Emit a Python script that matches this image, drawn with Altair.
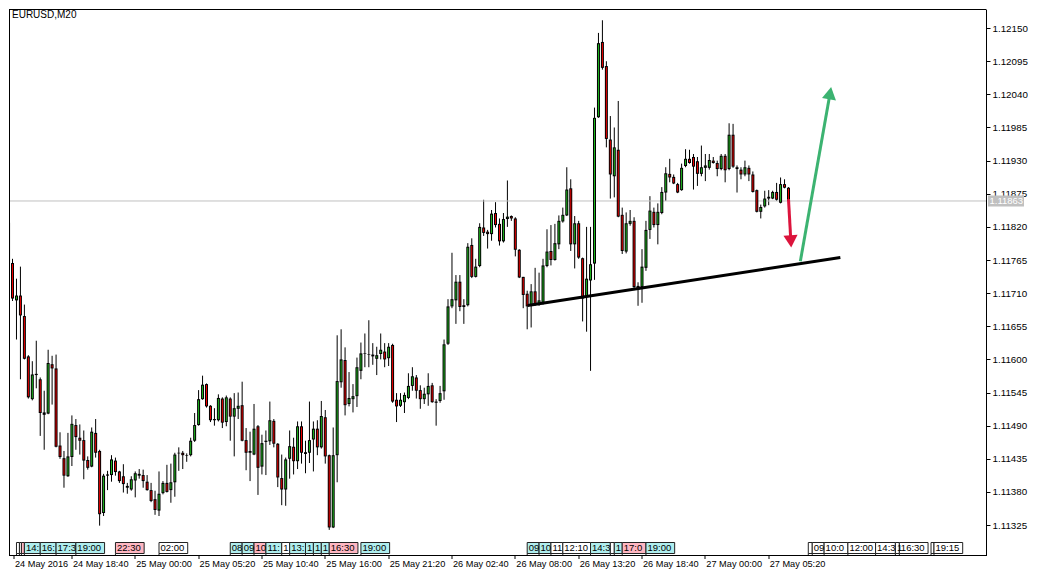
import json
import altair as alt
import pandas as pd
import numpy as np

FONT = "Liberation Sans"

# ---- candle data (EURUSD, M20), bar 0 = 24 May 2016 13:20 ----
OPEN = [1.11827,1.11760,1.11698,1.11706,1.11672,1.11605,1.11534,1.11574,1.11567,1.11512,
        1.11510,1.11592,1.11585,1.11457,1.11436,1.11406,1.11438,1.11491,1.11470,1.11466,
        1.11433,1.11422,1.11478,1.11448,1.11345,1.11407,1.11408,1.11432,1.11414,1.11406,
        1.11390,1.11384,1.11399,1.11410,1.11408,1.11397,1.11383,1.11368,1.11349,1.11378,
        1.11395,1.11383,1.11396,1.11444,1.11445,1.11441,1.11441,1.11465,1.11491,1.11534,
        1.11559,1.11523,1.11501,1.11499,1.11535,1.11496,1.11535,1.11505,1.11518,1.11524,
        1.11466,1.11448,1.11442,1.11489,1.11422,1.11463,1.11464,1.11498,1.11460,1.11403,
        1.11384,1.11435,1.11455,1.11431,1.11489,1.11446,1.11445,1.11467,1.11485,1.11454,
        1.11504,1.11441,1.11321,1.11441,1.11562,1.11599,1.11526,1.11534,1.11539,1.11581,
        1.11609,1.11608,1.11608,1.11601,1.11609,1.11613,1.11602,1.11624,1.11533,1.11523,
        1.11529,1.11536,1.11556,1.11570,1.11549,1.11534,1.11542,1.11557,1.11530,1.11531,
        1.11547,1.11626,1.11688,1.11698,1.11729,1.11690,1.11690,1.11790,1.11737,1.11755,
        1.11819,1.11812,1.11808,1.11843,1.11825,1.11796,1.11833,1.11838,1.11834,1.11782,
        1.11737,1.11709,1.11690,1.11713,1.11691,1.11694,1.11755,1.11780,1.11765,1.11791,
        1.11829,1.11839,1.11884,1.11791,1.11826,1.11768,1.11705,1.11731,1.11759,1.12002,
        1.12127,1.12087,1.11965,1.11904,1.11948,1.11840,1.11779,1.11825,1.11830,1.11722,
        1.11720,1.11752,1.11815,1.11845,1.11823,1.11843,1.11877,1.11908,1.11903,1.11891,
        1.11881,1.11921,1.11933,1.11936,1.11929,1.11908,1.11918,1.11918,1.11930,1.11926,
        1.11916,1.11938,1.11916,1.11973,1.11919,1.11915,1.11907,1.11918,1.11907,1.11881,
        1.11845,1.11854,1.11867,1.11867,1.11878,1.11860,1.11891,1.11885]
HIGH = [1.11830,1.11767,1.11734,1.11754,1.11691,1.11607,1.11597,1.11631,1.11570,1.11548,
        1.11616,1.11606,1.11608,1.11479,1.11448,1.11478,1.11507,1.11501,1.11492,1.11482,
        1.11439,1.11487,1.11501,1.11450,1.11410,1.11415,1.11441,1.11437,1.11415,1.11426,
        1.11395,1.11406,1.11414,1.11418,1.11417,1.11408,1.11395,1.11382,1.11414,1.11398,
        1.11425,1.11427,1.11445,1.11454,1.11448,1.11444,1.11470,1.11511,1.11549,1.11573,
        1.11560,1.11524,1.11519,1.11542,1.11537,1.11540,1.11537,1.11544,1.11545,1.11563,
        1.11486,1.11480,1.11526,1.11491,1.11475,1.11482,1.11530,1.11501,1.11461,1.11442,
        1.11437,1.11482,1.11470,1.11497,1.11497,1.11465,1.11530,1.11497,1.11499,1.11531,
        1.11516,1.11442,1.11487,1.11640,1.11650,1.11620,1.11579,1.11559,1.11603,1.11628,
        1.11643,1.11665,1.11627,1.11621,1.11643,1.11627,1.11627,1.11626,1.11544,1.11544,
        1.11545,1.11577,1.11587,1.11574,1.11557,1.11553,1.11577,1.11561,1.11534,1.11556,
        1.11633,1.11700,1.11777,1.11740,1.11740,1.11700,1.11793,1.11801,1.11767,1.11826,
        1.11865,1.11815,1.11848,1.11861,1.11834,1.11843,1.11897,1.11839,1.11836,1.11783,
        1.11737,1.11714,1.11725,1.11752,1.11744,1.11767,1.11816,1.11823,1.11825,1.11839,
        1.11852,1.11919,1.11899,1.11838,1.11830,1.11769,1.11820,1.11820,1.12018,1.12142,
        1.12163,1.12095,1.12004,1.11985,1.12029,1.11852,1.11844,1.11848,1.11836,1.11728,
        1.11783,1.11830,1.11871,1.11852,1.11859,1.11886,1.11919,1.11933,1.11907,1.11893,
        1.11925,1.11949,1.11948,1.11941,1.11936,1.11955,1.11941,1.11941,1.11936,1.11930,
        1.11941,1.11941,1.11992,1.11991,1.11922,1.11919,1.11930,1.11922,1.11912,1.11882,
        1.11857,1.11880,1.11881,1.11880,1.11893,1.11902,1.11899,1.11886]
LOW = [1.11758,1.11697,1.11633,1.11567,1.11600,1.11535,1.11532,1.11552,1.11473,1.11450,
       1.11509,1.11525,1.11454,1.11435,1.11387,1.11405,1.11423,1.11450,1.11442,1.11401,
       1.11417,1.11421,1.11437,1.11324,1.11340,1.11383,1.11397,1.11407,1.11395,1.11379,
       1.11377,1.11382,1.11371,1.11402,1.11387,1.11382,1.11363,1.11342,1.11340,1.11376,
       1.11379,1.11362,1.11372,1.11415,1.11418,1.11430,1.11439,1.11463,1.11490,1.11533,
       1.11520,1.11496,1.11490,1.11497,1.11486,1.11489,1.11465,1.11439,1.11501,1.11464,
       1.11416,1.11398,1.11441,1.11375,1.11409,1.11408,1.11458,1.11454,1.11388,1.11358,
       1.11357,1.11402,1.11409,1.11418,1.11427,1.11411,1.11428,1.11414,1.11441,1.11452,
       1.11427,1.11317,1.11320,1.11396,1.11553,1.11507,1.11522,1.11512,1.11521,1.11567,
       1.11587,1.11587,1.11591,1.11574,1.11600,1.11587,1.11589,1.11528,1.11496,1.11521,
       1.11511,1.11534,1.11548,1.11535,1.11518,1.11526,1.11523,1.11528,1.11490,1.11528,
       1.11533,1.11624,1.11685,1.11659,1.11680,1.11659,1.11688,1.11735,1.11736,1.11753,
       1.11805,1.11784,1.11797,1.11819,1.11789,1.11794,1.11820,1.11830,1.11771,1.11735,
       1.11685,1.11650,1.11653,1.11689,1.11689,1.11691,1.11753,1.11756,1.11764,1.11783,
       1.11827,1.11838,1.11780,1.11751,1.11767,1.11663,1.11646,1.11581,1.11732,1.12001,
       1.12081,1.11952,1.11867,1.11869,1.11836,1.11775,1.11776,1.11822,1.11715,1.11689,
       1.11694,1.11747,1.11800,1.11819,1.11791,1.11841,1.11863,1.11894,1.11891,1.11876,
       1.11880,1.11919,1.11925,1.11882,1.11888,1.11904,1.11896,1.11915,1.11925,1.11904,
       1.11914,1.11894,1.11914,1.11918,1.11877,1.11899,1.11904,1.11896,1.11877,1.11844,
       1.11834,1.11852,1.11856,1.11866,1.11863,1.11859,1.11884,1.11861]
CLOSE = [1.11760,1.11701,1.11706,1.11673,1.11601,1.11537,1.11575,1.11576,1.11511,1.11508,
         1.11594,1.11585,1.11455,1.11438,1.11407,1.11439,1.11493,1.11471,1.11465,1.11432,
         1.11420,1.11480,1.11445,1.11343,1.11407,1.11409,1.11434,1.11413,1.11398,1.11393,
         1.11387,1.11401,1.11411,1.11407,1.11398,1.11383,1.11365,1.11350,1.11377,1.11395,
         1.11380,1.11396,1.11442,1.11445,1.11441,1.11440,1.11465,1.11491,1.11534,1.11558,
         1.11522,1.11499,1.11499,1.11536,1.11495,1.11537,1.11505,1.11519,1.11523,1.11465,
         1.11445,1.11445,1.11485,1.11420,1.11461,1.11465,1.11499,1.11460,1.11404,1.11384,
         1.11434,1.11456,1.11431,1.11489,1.11445,1.11443,1.11466,1.11485,1.11454,1.11506,
         1.11439,1.11321,1.11441,1.11564,1.11600,1.11524,1.11536,1.11539,1.11587,1.11610,
         1.11610,1.11609,1.11605,1.11607,1.11616,1.11600,1.11621,1.11530,1.11522,1.11533,
         1.11541,1.11556,1.11572,1.11548,1.11534,1.11543,1.11556,1.11529,1.11528,1.11544,
         1.11625,1.11688,1.11700,1.11729,1.11687,1.11687,1.11787,1.11737,1.11754,1.11820,
         1.11810,1.11808,1.11842,1.11823,1.11796,1.11833,1.11837,1.11834,1.11782,1.11736,
         1.11707,1.11688,1.11713,1.11692,1.11698,1.11756,1.11779,1.11765,1.11793,1.11830,
         1.11840,1.11882,1.11791,1.11826,1.11769,1.11701,1.11734,1.11758,1.12001,1.12125,
         1.12084,1.11966,1.11907,1.11952,1.11837,1.11780,1.11826,1.11830,1.11720,1.11716,
         1.11754,1.11815,1.11847,1.11823,1.11845,1.11878,1.11909,1.11902,1.11892,1.11877,
         1.11918,1.11933,1.11926,1.11920,1.11908,1.11919,1.11922,1.11931,1.11926,1.11916,
         1.11938,1.11914,1.11973,1.11920,1.11916,1.11907,1.11919,1.11907,1.11878,1.11845,
         1.11853,1.11867,1.11870,1.11878,1.11865,1.11891,1.11885,1.11863]

X_LABELS = ["24 May 2016", "24 May 18:40", "25 May 00:00", "25 May 05:20", "25 May 10:40",
            "25 May 16:00", "25 May 21:20", "26 May 02:40", "26 May 08:00", "26 May 13:20",
            "26 May 18:40", "27 May 00:00", "27 May 05:20"]
Y_TICKS = [1.11325, 1.11380, 1.11435, 1.11490, 1.11545, 1.11600, 1.11655, 1.11710,
           1.11765, 1.11820, 1.11875, 1.11930, 1.11985, 1.12040, 1.12095, 1.12150]
CURRENT_PRICE = 1.11863

TREND_BARS = [131.1, 210.1]
TREND_PRICES = [1.116895, 1.11769]

RED_ARROW_BARS = [197.0, 197.6]
RED_ARROW_PRICES = [1.11866, 1.11796]
GREEN_ARROW_BARS = [200.0, 207.5]
GREEN_ARROW_PRICES = [1.11763, 1.12042]

EVENT_TIMES = ["05-24 14:00", "05-24 14:15", "05-24 14:25", "05-24 14:40", "05-24 16:00",
               "05-24 17:20", "05-24 19:00", "05-24 22:20", "05-25 02:00", "05-25 08:00",
               "05-25 09:00", "05-25 10:00", "05-25 11:00", "05-25 12:20", "05-25 13:00",
               "05-25 14:20", "05-25 15:00", "05-25 15:40", "05-25 16:20", "05-25 19:00",
               "05-26 09:00", "05-26 10:00", "05-26 11:00", "05-26 12:00", "05-26 14:20",
               "05-26 16:00", "05-26 16:20", "05-26 17:00", "05-26 19:00", "05-27 08:40",
               "05-27 09:00", "05-27 10:00", "05-27 12:00", "05-27 14:20", "05-27 16:00",
               "05-27 16:20", "05-27 19:00", "05-27 19:15"]
EVENT_LABELS = ["", "", "", "14:", "16:", "17:3", "19:00", "22:30", "02:00", "08",
                "09", "10", "11:", "1", "13:", "1", "1", "1", "16:30", "19:00",
                "09", "10", "11", "12:10", "14:3", "", "1", "17:0", "19:00", "",
                "09", "10:0", "12:00", "14:3", "1", "16:30", "", "19:15"]
EVENT_KINDS = ["w", "w", "p", "c", "c", "c", "c", "p", "w", "c",
               "c", "p", "c", "w", "c", "c", "c", "c", "p", "c",
               "c", "c", "w", "w", "c", "w", "c", "p", "c", "w",
               "w", "w", "w", "w", "w", "w", "w", "w"]

GREEN = "#1fb81f"
RED = "#f00000"
KIND_FILL = {"c": "#afeeee", "p": "#ffb6c1", "w": "#ffffff"}

# ---- layout ----
W, H = 977, 546
PX_PER_BAR = 4.0
X0 = 1.375
PRICE_PER_PX = 0.000016601
P_TOP = 1.121817
xs = alt.Scale(domain=[X0, X0 + W / PX_PER_BAR], nice=False, zero=False)
ys = alt.Scale(domain=[P_TOP - H * PRICE_PER_PX, P_TOP], nice=False, zero=False)

n = len(OPEN)
df = pd.DataFrame({"i": np.arange(n), "open": OPEN, "high": HIGH, "low": LOW, "close": CLOSE})
df["bodyhi"] = df[["open", "close"]].max(axis=1)
df["bodylo"] = df[["open", "close"]].min(axis=1)
df["col"] = np.where(df["close"] >= df["open"], GREEN, RED)

tick_bars = [X0] + [16 * k for k in range(1, len(X_LABELS))]
label_expr = json.dumps(X_LABELS) + "[round(datum.value / 16)]"

x_axis = alt.Axis(values=tick_bars, labelExpr=label_expr, orient="bottom", domain=False,
                  grid=False, tickSize=4, tickColor="black", labelAlign="left",
                  labelBaseline="top", labelPadding=1, labelOffset=1, labelFont=FONT,
                  labelFontSize=9.2, labelColor="black", translate=0, title=None,
                  labelOverlap=False, labelFlush=False, labelBound=False)
y_axis = alt.Axis(orient="right", values=Y_TICKS, format=".5f", tickSize=4, tickColor="black",
                  domainColor="black", labelFont=FONT, labelFontSize=9.8, labelColor="black",
                  labelPadding=2, title=None, grid=False, labelOverlap=False, labelFlush=False)


def X(field):
    return alt.X(field, type="quantitative", scale=xs, axis=x_axis)


def Y(field):
    return alt.Y(field, type="quantitative", scale=ys, axis=y_axis)


wick = alt.Chart(df).mark_rule(color="black", strokeWidth=1, clip=True).encode(
    x=X("i"), y=Y("low"), y2="high:Q")
body = alt.Chart(df).mark_bar(size=3, color="black", clip=True).encode(
    x=X("i"), y=Y("bodyhi"), y2="bodylo:Q")
inner = alt.Chart(df).transform_filter("datum.bodyhi - datum.bodylo > 0.00004").mark_bar(
    size=1, yOffset=1, y2Offset=-1, clip=True).encode(
    x=X("i"), y=Y("bodyhi"), y2="bodylo:Q",
    color=alt.Color("col:N", scale=None))

# current price line and label
cp = pd.DataFrame({"p": [CURRENT_PRICE], "lbl": [f"{CURRENT_PRICE:.5f}"]})
cp["hi"] = cp["p"] + 5.5 * PRICE_PER_PX
cp["lo"] = cp["p"] - 5.5 * PRICE_PER_PX
price_line = alt.Chart(cp).mark_rule(color="#c0c0c0", strokeWidth=1).encode(
    y=Y("p"), x=alt.value(0), x2=alt.value(W))
price_box = alt.Chart(cp).mark_rect(color="#c0c0c0").encode(
    y=Y("hi"), y2="lo:Q", x=alt.value(W + 2), x2=alt.value(W + 38))
price_txt = alt.Chart(cp).mark_text(color="white", font=FONT, fontSize=9.5, align="left",
                                    baseline="middle").encode(
    y=Y("p"), x=alt.value(W + 3.5), text="lbl:N")

# trend line
tl = pd.DataFrame({"b0": [TREND_BARS[0]], "b1": [TREND_BARS[1]],
                   "p0": [TREND_PRICES[0]], "p1": [TREND_PRICES[1]]})
trend = alt.Chart(tl).mark_rule(color="black", strokeWidth=3, clip=True).encode(
    x=X("b0"), x2="b1:Q", y=Y("p0"), y2="p1:Q")


def arrow(bars, prices, color, angle):
    d = pd.DataFrame({"b0": [bars[0]], "b1": [bars[1]], "p0": [prices[0]], "p1": [prices[1]]})
    line = alt.Chart(d).mark_rule(color=color, strokeWidth=3).encode(
        x=X("b0"), x2="b1:Q", y=Y("p0"), y2="p1:Q")
    head = alt.Chart(d).mark_point(shape="triangle-up", filled=True, size=200, angle=angle,
                                   color=color, opacity=1, strokeWidth=0).encode(
        x=X("b1"), y=Y("p1"))
    return [line, head]


red_arrow = arrow(RED_ARROW_BARS, RED_ARROW_PRICES, "#dc143c", 176.6)
green_arrow = arrow(GREEN_ARROW_BARS, GREEN_ARROW_PRICES, "#3cb371", 10.1)

# calendar events along the bottom
base_time = pd.Timestamp("2016-05-24 13:20")
starts = [(pd.Timestamp("2016-" + t) - base_time).total_seconds() / 1200.0 for t in EVENT_TIMES]
ends = []
for k, s in enumerate(starts):
    full = s + 7.25
    ends.append(min(starts[k + 1], full) if k + 1 < len(starts) else full)
ev = pd.DataFrame({"start": starts, "end": ends, "label": EVENT_LABELS,
                   "fill": [KIND_FILL[k] for k in EVENT_KINDS]})
ev_box = alt.Chart(ev).mark_rect(stroke="#222222", strokeWidth=1).encode(
    x=X("start"), x2="end:Q",
    y=alt.value(H - 12.5), y2=alt.value(H - 1.5),
    fill=alt.Fill("fill:N", scale=None))
ev_tick = alt.Chart(ev).mark_rule(color="#222222").encode(
    x=X("start"), y=alt.value(H - 1.5), y2=alt.value(H))
ev_txt = alt.Chart(ev).mark_text(font=FONT, fontSize=9.5, color="black", align="left",
                                 baseline="middle", dx=1.5).encode(
    x=X("start"), y=alt.value(H - 7), text="label:N")

one = pd.DataFrame({"a": [0]})
frame_left = alt.Chart(one).mark_rule(color="black").encode(
    x=alt.value(0.5), y=alt.value(0), y2=alt.value(H + 1))
frame_top = alt.Chart(one).mark_rule(color="black").encode(
    y=alt.value(0.5), x=alt.value(0), x2=alt.value(W))
frame_bottom = alt.Chart(one).mark_rule(color="black").encode(
    y=alt.value(H + 0.5), x=alt.value(0), x2=alt.value(W + 1))
title = alt.Chart(pd.DataFrame({"t": ["EURUSD,M20"]})).mark_text(
    font=FONT, fontSize=10, color="black", align="left", baseline="top").encode(
    x=alt.value(3), y=alt.value(1), text="t:N")

chart = alt.layer(
    wick, price_line, body, inner, trend, *red_arrow, *green_arrow,
    ev_box, ev_tick, ev_txt, price_box, price_txt,
    frame_left, frame_top, frame_bottom, title
).properties(
    width=W, height=H, padding={"left": 0, "top": 0, "right": 0, "bottom": 0},
    background="white"
).configure_view(stroke=None)

chart.save("out.html", embed_options={"renderer": "svg", "actions": False})
